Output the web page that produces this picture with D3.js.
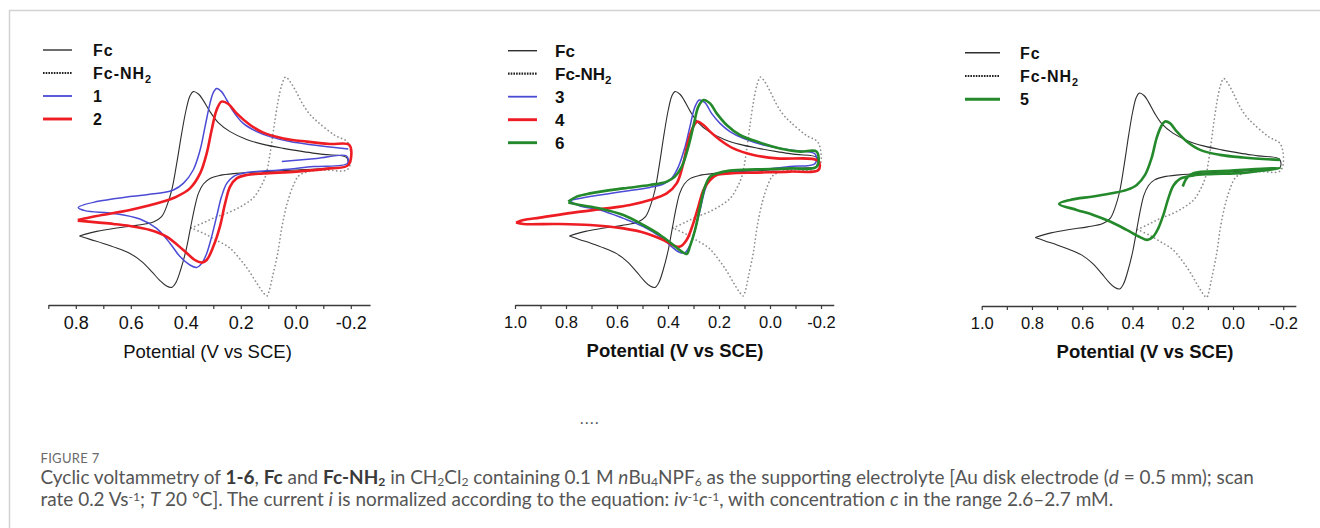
<!DOCTYPE html>
<html>
<head>
<meta charset="utf-8">
<script src="https://cdn.jsdelivr.net/npm/d3@7"></script>
<style>
	body { margin: 0; background: #fff; }
	svg { display: block; }
</style>
</head>
<body>
<svg id="fig" width="1320" height="528"></svg>
<script>

// potential ticks (V vs SCE), every 0.1 V, labelled every 0.2 V
var ticksA = [0.9, 0.8, 0.7, 0.6, 0.5, 0.4, 0.3, 0.2, 0.1, 0.0, -0.1, -0.2];
var ticksB = [1.0, 0.9, 0.8, 0.7, 0.6, 0.5, 0.4, 0.3, 0.2, 0.1, 0.0, -0.1, -0.2];
var labelsA = ["0.8", "0.6", "0.4", "0.2", "0.0", "-0.2"];
var labelsB = ["1.0", "0.8", "0.6", "0.4", "0.2", "0.0", "-0.2"];

// voltammograms: [E (V vs SCE), normalized current (arb.)]
var fc = [[0.787,-28.0],[0.724,-25.7],[0.651,-24.0],[0.579,-22.7],[0.518,-21.0],[0.488,-18.3],[0.470,-13.3],[0.451,-5.0],[0.433,8.3],[0.415,23.3],[0.399,35.0],[0.385,42.0],[0.373,44.2],[0.354,43.0],[0.336,39.7],[0.312,34.2],[0.282,28.7],[0.239,24.2],[0.179,20.3],[0.118,17.8],[0.045,15.8],[-0.027,14.2],[-0.100,12.8],[-0.185,11.2],
	[-0.187,7.0],[-0.125,6.0],[-0.003,5.0],[0.118,4.2],[0.215,3.3],[0.276,2.3],[0.312,0.8],[0.336,-2.0],[0.354,-6.7],[0.367,-13.3],[0.382,-23.3],[0.399,-35.0],[0.419,-45.0],[0.436,-51.3],[0.451,-53.7],[0.470,-53.0],[0.494,-50.3],[0.524,-45.8],[0.560,-40.8],[0.603,-36.7],[0.651,-34.0],[0.700,-31.7],[0.748,-29.7],[0.787,-28.0]];

var fcNH2 = [[0.38,-24],[0.33,-21],[0.29,-18.5],[0.24,-16],[0.19,-12.5],[0.155,-9],[0.13,-4],[0.11,2],[0.095,12],[0.08,26],[0.065,39],[0.05,48],[0.037,51.5],[0.02,49],[0.0,44.5],[-0.025,38],[-0.05,33],[-0.08,29],[-0.14,22.5],[-0.19,18.5],
	[-0.19,5.5],[-0.1,5],[-0.04,4],[-0.01,2],[0.01,-3],[0.03,-11],[0.05,-23],[0.065,-36],[0.085,-48.5],[0.098,-56],[0.105,-58],[0.12,-56],[0.14,-52],[0.17,-45.5],[0.2,-40],[0.24,-34],[0.29,-30],[0.33,-27],[0.38,-24]];

var cpd1 = [[0.051,9.2],[-0.076,10.8],[-0.185,12.0],[-0.188,8.3],[-0.064,6.7],[0.057,5.0],[0.179,3.7],[0.227,1.7],[0.251,-1.7],[0.270,-8.3],[0.288,-18.3],[0.306,-28.3],[0.324,-36.7],[0.342,-41.7],[0.360,-43.7],[0.385,-42.5],[0.421,-38.3],[0.457,-31.7],[0.506,-24.2],[0.567,-19.5],[0.663,-16.7],[0.767,-15.3],[0.791,-13.7],
	[0.724,-10.8],[0.603,-8.3],[0.482,-6.3],[0.445,-5.0],[0.409,-1.7],[0.373,5.0],[0.348,15.0],[0.330,26.7],[0.312,38.3],[0.300,43.7],[0.288,45.8],[0.270,44.2],[0.251,40.0],[0.227,34.2],[0.191,28.3],[0.142,24.2],[0.094,21.7],[0.021,19.2],[-0.064,17.5],[-0.191,15.5]];

var cpd2 = [[0.793,-20.0],[0.724,-18.0],[0.603,-15.0],[0.482,-10.8],[0.433,-8.3],[0.385,-4.2],[0.348,3.3],[0.324,13.3],[0.306,25.0],[0.288,35.0],[0.270,39.2],[0.245,38.0],[0.215,33.3],[0.166,27.5],[0.118,23.7],[0.045,20.8],[-0.040,19.2],[-0.125,18.0],[-0.195,17.5],
	[-0.191,7.5],[-0.125,5.8],[-0.003,4.2],[0.118,3.3],[0.179,2.5],[0.215,0.8],[0.239,-3.3],[0.257,-11.7],[0.276,-23.3],[0.300,-33.3],[0.324,-40.0],[0.342,-41.3],[0.367,-40.0],[0.409,-35.0],[0.470,-28.3],[0.530,-25.0],[0.603,-23.0],[0.663,-22.0],[0.724,-21.2],[0.793,-20.3]];

var cpd3 = [[0.788,-10.3],[0.706,-8.3],[0.575,-5.8],[0.471,-3.7],[0.418,-2.0],[0.386,0.8],[0.359,6.7],[0.333,16.7],[0.314,26.7],[0.294,36.7],[0.277,40.0],[0.255,38.7],[0.229,33.3],[0.196,28.3],[0.157,24.2],[0.105,20.8],[0.026,17.5],[-0.078,15.0],[-0.177,13.0],
	[-0.177,8.3],[-0.078,6.7],[0.052,5.0],[0.157,4.2],[0.209,3.3],[0.235,0.8],[0.255,-5.0],[0.274,-15.0],[0.294,-25.0],[0.314,-32.5],[0.333,-36.3],[0.353,-36.3],[0.386,-33.3],[0.431,-28.3],[0.497,-23.3],[0.575,-19.2],[0.667,-15.0],[0.745,-13.0],[0.788,-10.3]];

var cpd4 = [[0.996,-21.3],[0.967,-20.0],[0.902,-18.8],[0.771,-16.3],[0.640,-14.2],[0.549,-12.5],[0.471,-10.0],[0.405,-6.7],[0.366,-1.7],[0.340,8.3],[0.320,20.0],[0.301,26.7],[0.285,29.2],[0.261,27.5],[0.235,24.2],[0.196,20.0],[0.144,15.8],[0.065,12.5],[-0.026,10.8],[-0.190,9.5],
	[-0.190,5.0],[-0.078,4.2],[0.052,3.7],[0.157,3.3],[0.209,2.5],[0.235,0.0],[0.261,-5.0],[0.281,-13.3],[0.301,-21.7],[0.327,-30.0],[0.353,-33.3],[0.373,-33.0],[0.418,-30.0],[0.484,-26.7],[0.575,-24.2],[0.706,-22.5],[0.837,-22.0],[0.967,-22.0],[0.996,-21.3]];

var cpd5 = [[0.200,-2.5],[0.184,1.7],[0.158,4.2],[0.025,5.3],[-0.187,6.7],[-0.041,4.3],[0.092,3.7],[0.158,3.0],[0.211,1.3],[0.237,-2.0],[0.257,-8.3],[0.277,-16.7],[0.297,-23.3],[0.317,-27.5],[0.341,-29.2],[0.370,-27.8],[0.423,-24.2],[0.489,-20.0],[0.556,-16.7],[0.622,-14.2],[0.692,-11.2],
	[0.648,-9.2],[0.556,-7.5],[0.476,-5.8],[0.423,-4.2],[0.383,-1.7],[0.350,3.3],[0.324,11.7],[0.304,21.7],[0.286,27.5],[0.271,30.0],[0.251,29.2],[0.224,25.0],[0.184,20.0],[0.131,15.8],[0.052,13.3],[-0.041,12.0],[-0.187,10.8]];

var cpd6 = [[0.791,-10.8],[0.758,-8.3],[0.706,-6.7],[0.575,-4.2],[0.471,-2.5],[0.405,-0.8],[0.373,1.7],[0.346,6.7],[0.320,16.7],[0.298,28.3],[0.281,36.7],[0.261,40.0],[0.235,38.3],[0.209,33.3],[0.170,27.5],[0.118,22.5],[0.052,19.2],[-0.039,15.8],[-0.118,14.2],[-0.183,14.2],
	[-0.183,6.7],[-0.078,5.8],[0.052,5.3],[0.157,4.7],[0.209,3.3],[0.235,1.7],[0.255,-3.3],[0.274,-13.3],[0.294,-25.0],[0.314,-33.3],[0.327,-37.0],[0.346,-35.8],[0.379,-32.5],[0.431,-27.5],[0.497,-22.5],[0.575,-17.5],[0.667,-14.2],[0.745,-12.5],[0.791,-11.3]];

var styles = {
	fc:    {stroke: "#2e2e2e", width: 1.1},
	nh2:   {stroke: "#8e8e8e", width: 1.7, dash: "0.1,3.8", cap: "round", legendStroke: "#222", legendDash: "1.6,1.1", legendWidth: 2.2},
	blue:  {stroke: "#4b4bd6", width: 1.5},
	red:   {stroke: "#ee1d24", width: 2.6},
	green: {stroke: "#24892b", width: 2.6}
};

var panels = [
	{
		e: [0.9, -0.27], x0: 48.3, pxPerV: 275, axisY: 305, yShift: 0,
		ticks: ticksA, labels: labelsA, tickFont: 18,
		title: {x: 207.5, y: 358, size: 18.5, bold: false},
		legend: {x: 43, len: 29, tx: 93, y: 50, step: 23, size: 16, spacing: 1},
		series: [
			{data: fcNH2, style: "nh2", label: "Fc-NH", sub: "2"},
			{data: fc, style: "fc", label: "Fc"},
			{data: cpd1, style: "blue", label: "1"},
			{data: cpd2, style: "red", label: "2"}
		],
		order: ["Fc", "Fc-NH", "1", "2"]
	},
	{
		e: [1.0, -0.25], x0: 515, pxPerV: 255, axisY: 305, yShift: 0,
		ticks: ticksB, labels: labelsB, tickFont: 16.5,
		title: {x: 675, y: 357, size: 18.5, bold: true},
		legend: {x: 508, len: 29, tx: 555, y: 50.7, step: 23, size: 17, spacing: 0},
		series: [
			{data: fcNH2, style: "nh2", label: "Fc-NH", sub: "2"},
			{data: fc, style: "fc", label: "Fc"},
			{data: cpd3, style: "blue", label: "3"},
			{data: cpd4, style: "red", label: "4"},
			{data: cpd6, style: "green", label: "6"}
		],
		order: ["Fc", "Fc-NH", "3", "4", "6"]
	},
	{
		e: [1.0, -0.25], x0: 981.7, pxPerV: 251.3, axisY: 306, yShift: 1.5,
		ticks: ticksB, labels: labelsB, tickFont: 16.5,
		title: {x: 1145, y: 358, size: 18.5, bold: true},
		legend: {x: 965, len: 35, tx: 1020, y: 52.7, step: 23.3, size: 16, spacing: 1},
		series: [
			{data: fcNH2, style: "nh2", label: "Fc-NH", sub: "2"},
			{data: fc, style: "fc", label: "Fc"},
			{data: cpd5, style: "green", label: "5"}
		],
		order: ["Fc", "Fc-NH", "5"]
	}
];

var svg = d3.select("#fig");
var font = "'Liberation Sans', Arial, sans-serif";

// outer frame (open to the right and bottom)
svg.append("path")
	.attr("d", "M9.5,528V10.5H1320")
	.attr("fill", "none")
	.attr("stroke", "#d2d2d2")
	.attr("stroke-width", 1.5);

panels.forEach(function(p) {
	var x = d3.scaleLinear()
		.domain(p.e)
		.range([p.x0, p.x0 + (p.e[0] - p.e[1]) * p.pxPerV]);
	var y = d3.scaleLinear()
		.domain([-60, 60])
		.range([300 + p.yShift, 60 + p.yShift]);

	var line = d3.line()
		.x(function(d) { return x(d[0]); })
		.y(function(d) { return y(d[1]); })
		.curve(d3.curveCatmullRom.alpha(0.5));

	var g = svg.append("g");

	g.selectAll("path.cv")
		.data(p.series)
	.enter().append("path")
		.attr("class", "cv")
		.attr("d", function(d) { return line(d.data); })
		.attr("fill", "none")
		.attr("stroke", function(d) { return styles[d.style].stroke; })
		.attr("stroke-width", function(d) { return styles[d.style].width; })
		.attr("stroke-dasharray", function(d) { return styles[d.style].dash || null; })
		.attr("stroke-linecap", function(d) { return styles[d.style].cap || "butt"; })
		.attr("stroke-linejoin", "round");

	var axis = d3.axisBottom(x)
		.tickValues(p.ticks)
		.tickSizeInner(4)
		.tickSizeOuter(0)
		.tickPadding(7)
		.tickFormat(function(d) {
			var s = d.toFixed(1);
			if (s === "-0.0") s = "0.0";
			return p.labels.indexOf(s) >= 0 ? s : "";
		});

	var ax = g.append("g")
		.attr("transform", "translate(0," + p.axisY + ")")
		.call(axis);
	ax.select(".domain").attr("stroke", "#3a3a3a").attr("stroke-width", 1.3);
	ax.selectAll(".tick line").attr("stroke", "#3a3a3a").attr("stroke-width", 1.2);
	ax.selectAll(".tick text")
		.attr("fill", "#111")
		.style("font-family", font)
		.style("font-size", p.tickFont + "px");

	g.append("text")
		.attr("x", p.title.x)
		.attr("y", p.title.y)
		.attr("text-anchor", "middle")
		.attr("fill", "#111")
		.style("font-family", font)
		.style("font-size", p.title.size + "px")
		.style("font-weight", p.title.bold ? "bold" : "normal")
		.text("Potential (V vs SCE)");

	// legend
	var items = p.order.map(function(name) {
		return p.series.filter(function(s) { return s.label === name; })[0];
	});
	var leg = g.selectAll("g.leg")
		.data(items)
	.enter().append("g")
		.attr("class", "leg")
		.attr("transform", function(d, k) { return "translate(0," + (p.legend.y + k * p.legend.step) + ")"; });

	leg.append("line")
		.attr("x1", p.legend.x)
		.attr("x2", p.legend.x + p.legend.len)
		.attr("stroke", function(d) { var s = styles[d.style]; return s.legendStroke || s.stroke; })
		.attr("stroke-width", function(d) { var s = styles[d.style]; return s.legendWidth || s.width + 0.3; })
		.attr("stroke-dasharray", function(d) { return styles[d.style].legendDash || null; });

	var lt = leg.append("text")
		.attr("x", p.legend.tx)
		.attr("y", 6)
		.attr("fill", "#111")
		.style("font-family", font)
		.style("font-weight", "bold")
		.style("font-size", p.legend.size + "px")
		.style("letter-spacing", p.legend.spacing + "px")
		.text(function(d) { return d.label; });
	lt.filter(function(d) { return d.sub; })
		.append("tspan")
		.attr("dy", 4)
		.style("font-size", "0.68em")
		.text(function(d) { return d.sub; });
});

// caption
svg.append("text")
	.attr("x", 580)
	.attr("y", 424)
	.attr("fill", "#555")
	.style("font-family", "Lato, sans-serif")
	.style("font-size", "15px")
	.style("letter-spacing", "1.5px")
	.text("....");

svg.append("text")
	.attr("x", 40.5)
	.attr("y", 463)
	.attr("fill", "#6a6a6a")
	.style("font-family", "Lato, sans-serif")
	.style("font-size", "13px")
	.style("letter-spacing", "0.3px")
	.text("FIGURE 7");

var capLine1 = [
	["Cyclic voltammetry of ", ""], ["1-6", "b"], [", ", ""], ["Fc", "b"], [" and ", ""], ["Fc-NH", "b"], ["2", "bsub"],
	[" in CH", ""], ["2", "sub"], ["Cl", ""], ["2", "sub"], [" containing 0.1 M ", ""], ["n", "i"], ["Bu", ""], ["4", "sub"],
	["NPF", ""], ["6", "sub"], [" as the supporting electrolyte [Au disk electrode (", ""], ["d", "i"], [" = 0.5 mm); scan", ""]
];
var capLine2 = [
	["rate 0.2 Vs", ""], ["-1", "sup"], ["; ", ""], ["T", "i"], [" 20 °C]. The current ", ""], ["i", "i"],
	[" is normalized according to the equation: ", ""], ["iv", "i"], ["-1", "sup"], ["c", "i"], ["-1", "sup"],
	[", with concentration ", ""], ["c", "i"], [" in the range 2.6–2.7 mM.", ""]
];

function capText(parts, yPos, size) {
	var t = svg.append("text")
		.attr("x", 40.5)
		.attr("y", yPos)
		.attr("fill", "#555")
		.style("font-family", "Lato, sans-serif")
		.style("font-size", size + "px");
	var shift = 0;
	parts.forEach(function(p) {
		var span = t.append("tspan").text(p[0]);
		var want = 0;
		if (p[1] === "sub" || p[1] === "bsub") want = 0.12 * size;
		if (p[1] === "sup") want = -0.28 * size;
		if (want !== shift) span.attr("dy", want - shift);
		shift = want;
		if (p[1] === "b" || p[1] === "bsub") span.style("font-weight", "bold").attr("fill", "#3a3a3a");
		if (p[1] === "i") span.style("font-style", "italic");
		if (p[1] === "sub" || p[1] === "bsub" || p[1] === "sup") span.style("font-size", (0.64 * size) + "px");
	});
	return t;
}

// fit caption width to the reference line length
var probe = capText(capLine1, 484, 15);
var fs = 15 * 1214 / probe.node().getComputedTextLength();
probe.remove();
capText(capLine1, 484, fs);
capText(capLine2, 506, fs);

</script>
</body>
</html>
